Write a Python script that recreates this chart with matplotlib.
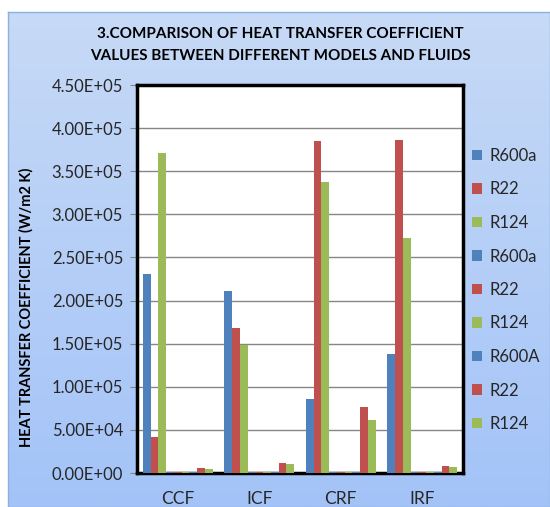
import matplotlib
matplotlib.use("Agg")
import matplotlib.pyplot as plt
import numpy as np

plt.rcParams['font.family'] = ['Lato', 'DejaVu Sans']

# categories and series
models = ["CCF", "ICF", "CRF", "IRF"]
series_names = ["R600a", "R22", "R124", "R600a", "R22", "R124", "R600A", "R22", "R124"]
r600a_1 = [2.31e5, 2.11e5, 0.86e5, 1.38e5]
r22_1 = [0.42e5, 1.68e5, 3.85e5, 3.86e5]
r124_1 = [3.71e5, 1.48e5, 3.38e5, 2.73e5]
r600a_2 = [1500, 1500, 1500, 1500]
r22_2 = [1500, 1500, 1500, 1500]
r124_2 = [1500, 1500, 1500, 1500]
r600a_3 = [1500, 1500, 1500, 1500]
r22_3 = [6000, 12000, 76000, 8000]
r124_3 = [5000, 10000, 61000, 7000]
all_series = [r600a_1, r22_1, r124_1, r600a_2, r22_2, r124_2, r600a_3, r22_3, r124_3]

blue = "#4F81BD"
red = "#C0504D"
green = "#9BBB59"
colors = [blue, red, green] * 3

fig = plt.figure(figsize=(5.5, 5.07), dpi=100)
fig.patch.set_facecolor("white")

# light blue chart area with vertical gradient
bg = fig.add_axes([8/550, 0, 1 - 8/550, 1 - 12/507], zorder=-10)
grad = np.linspace(0, 1, 256).reshape(-1, 1)
cmap = matplotlib.colors.LinearSegmentedColormap.from_list("bg", ["#C7DAF6", "#A3C3F8"])
bg.imshow(grad, aspect="auto", cmap=cmap, extent=[0, 1, 0, 1], origin="upper")
bg.set_xticks([])
bg.set_yticks([])
for s in bg.spines.values():
    s.set_color("#8DB0E0")
    s.set_linewidth(1)

ax = fig.add_axes([137/550, 1 - 473/507, (463 - 137)/550, (473 - 85)/507])
ax.set_facecolor("white")

n = len(all_series)
width = 1 / (n + 1.5)
x = np.arange(len(models))
for i, (vals, c, name) in enumerate(zip(all_series, colors, series_names)):
    off = (i - (n - 1) / 2) * width
    ax.bar(x + off, vals, width, color=c, label=name, zorder=3, linewidth=0)

ax.set_ylim(0, 4.5e5)
ax.set_xlim(-0.5, len(models) - 0.5)
yt = np.arange(0, 4.5e5 + 1, 0.5e5)
ax.set_yticks(yt)
ax.set_yticklabels(["%.2E" % v for v in yt], fontsize=12, color="#262626")
ax.set_xticks(x)
ax.set_xticklabels(models, fontsize=12.5, color="#262626")
ax.tick_params(axis="y", length=5, color="#868686", pad=5)
ax.tick_params(axis="x", length=0, pad=13)
ax.yaxis.grid(True, color="#868686", linewidth=1, zorder=0)
ax.set_axisbelow(True)
for s in ax.spines.values():
    s.set_color("black")
    s.set_linewidth(2.5)

fig.text(26/550, 1 - 307/507, "HEAT TRANSFER COEFFICIENT (W/m2 K)", rotation=90,
         ha="center", va="center", fontsize=10.5, fontweight="bold")

fig.text(0.51, 1 - 45/507, "3.COMPARISON OF HEAT TRANSFER COEFFICIENT\nVALUES BETWEEN DIFFERENT MODELS AND FLUIDS",
         ha="center", va="center", fontsize=11, fontweight="bold", linespacing=1.75)

leg = fig.legend(loc="center left", bbox_to_anchor=(472/550, 1 - 290/507), frameon=False,
                 fontsize=12, handlelength=0.6, handleheight=0.6, handletextpad=0.45,
                 labelspacing=1.05, borderpad=0, borderaxespad=0)
for t in leg.get_texts():
    t.set_color("#262626")

fig.savefig("out.png", dpi=100)
